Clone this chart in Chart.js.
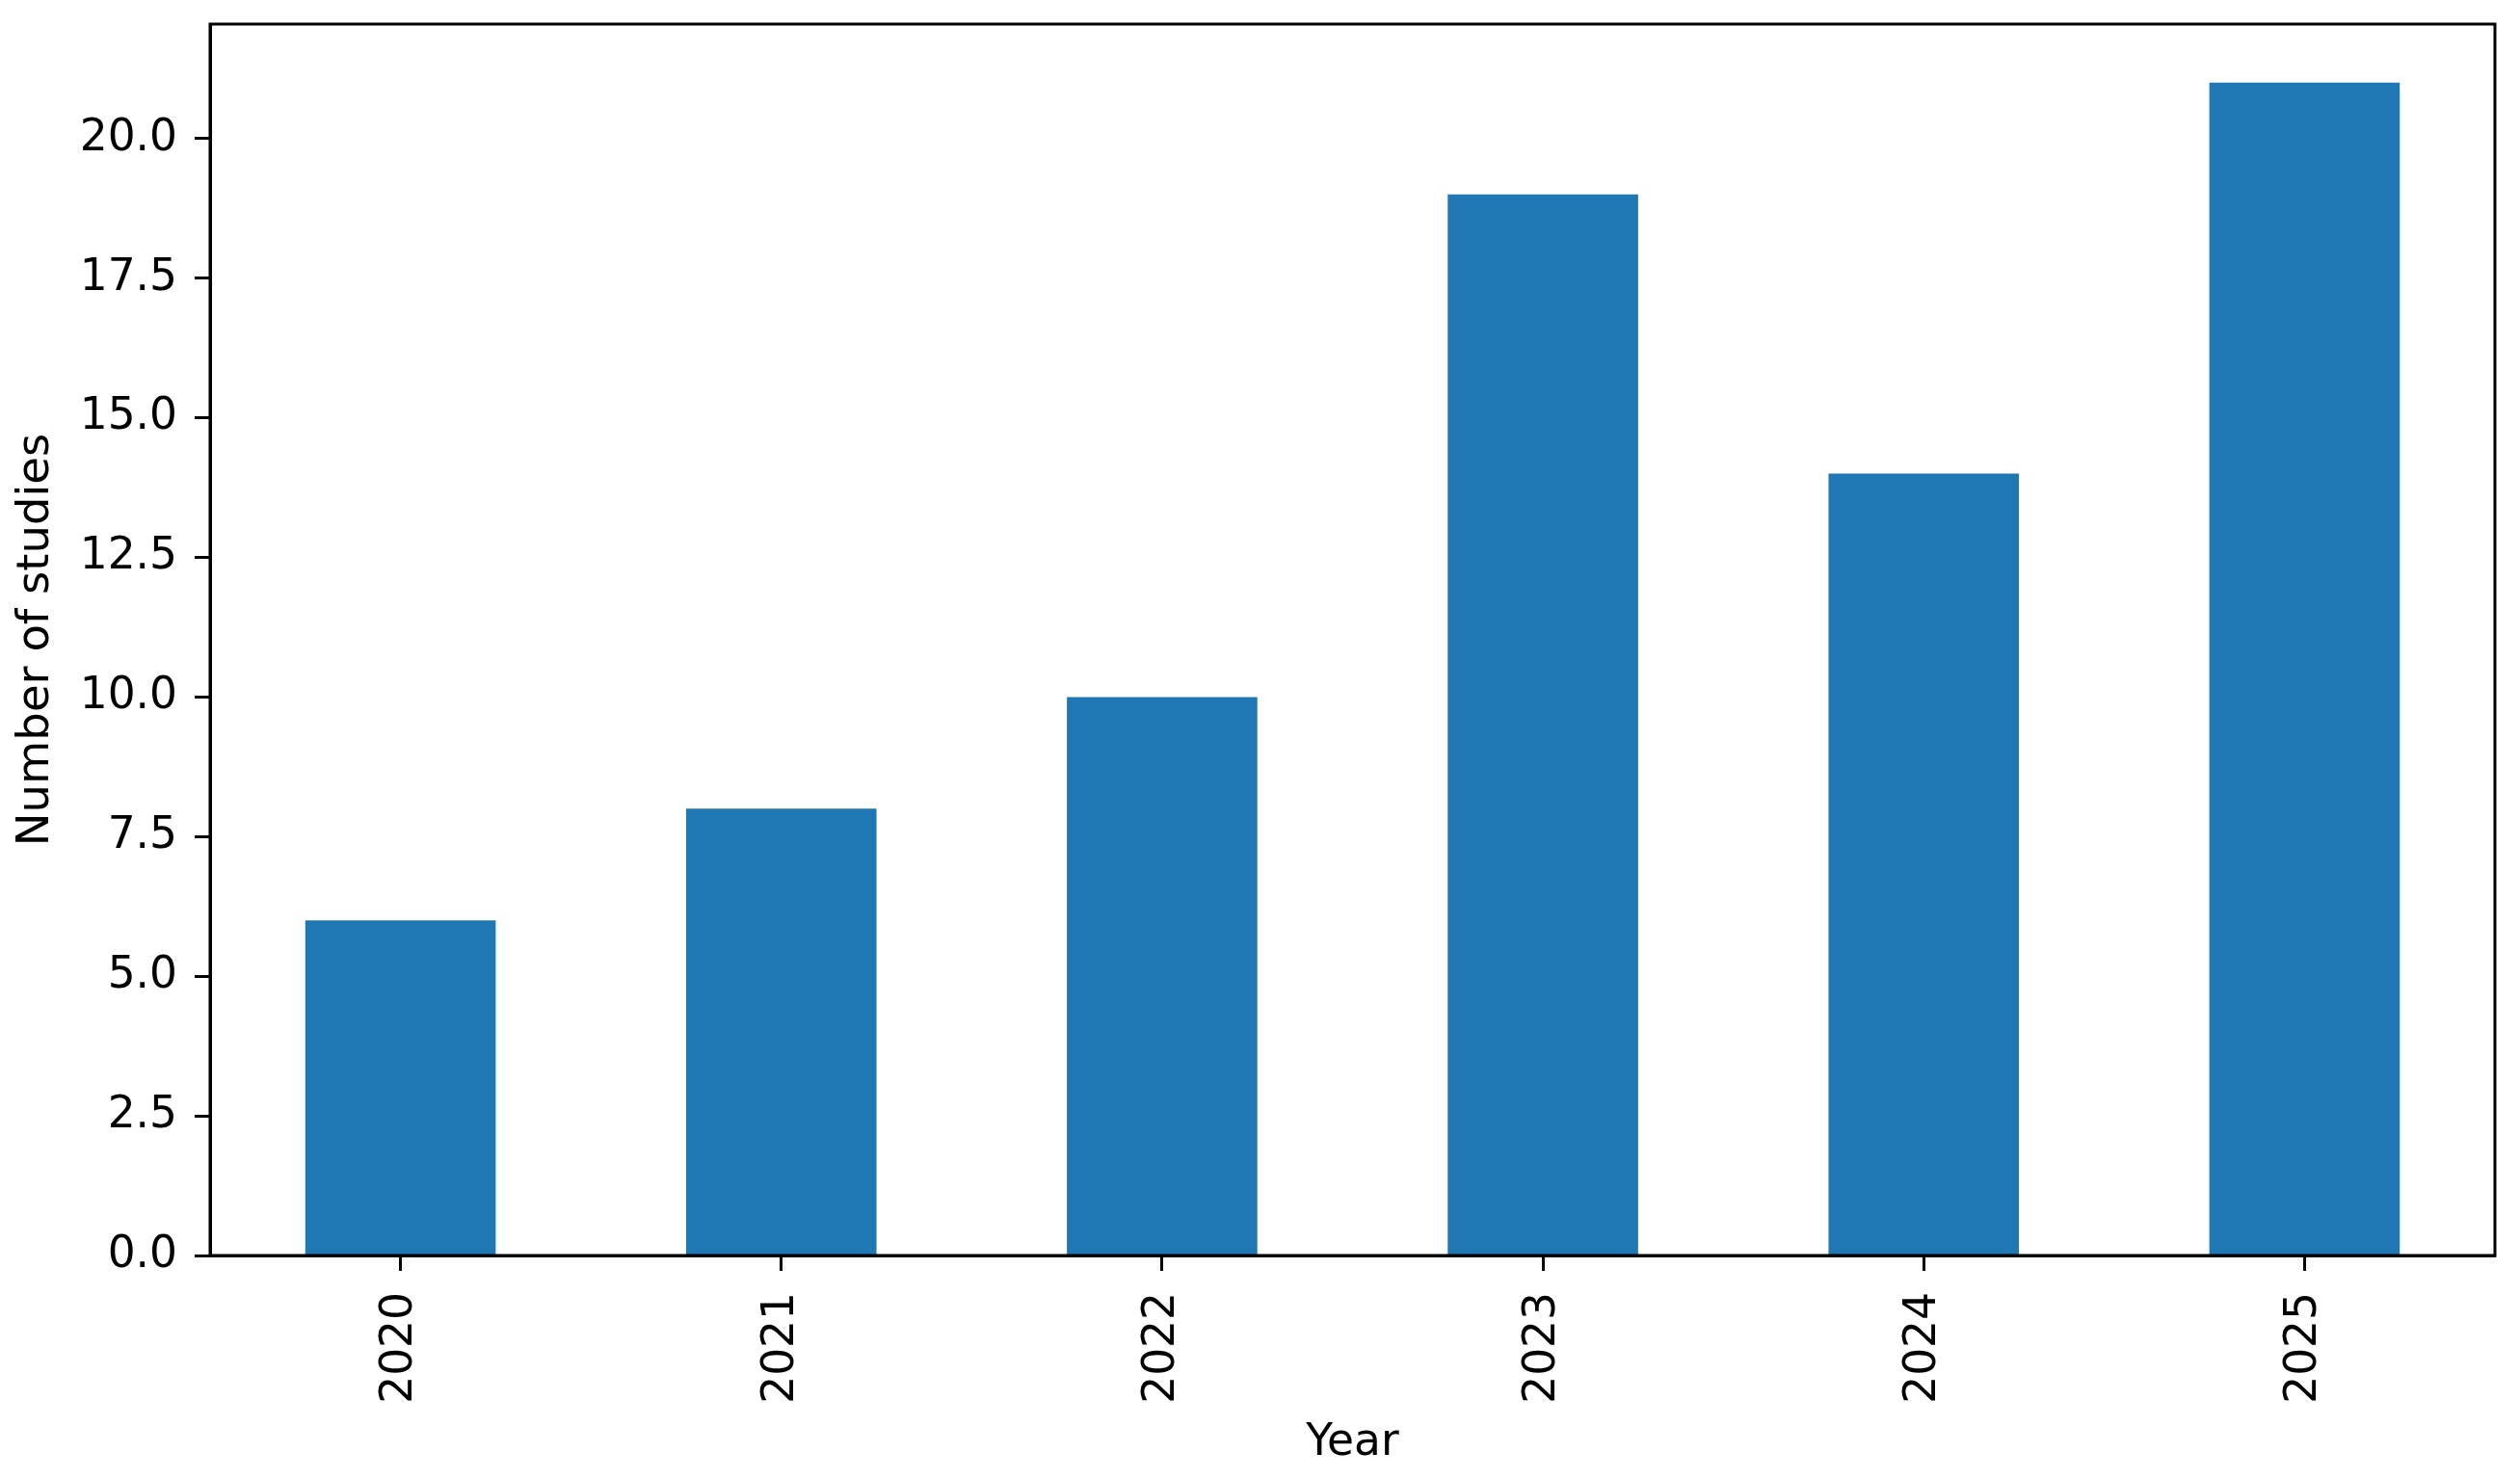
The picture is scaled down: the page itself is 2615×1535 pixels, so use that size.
<!DOCTYPE html>
<html>
<head>
<meta charset="utf-8">
<style>
  html, body { margin: 0; padding: 0; background: #fff; }
  #wrap { width: 2615px; height: 1535px; }
</style>
<script src="https://cdn.jsdelivr.net/npm/chart.js@4.4.1/dist/chart.umd.min.js"></script>
</head>
<body>
<div id="wrap"><canvas id="studiesChart" width="2615" height="1535"></canvas></div>
<script>
const years = ['2020', '2021', '2022', '2023', '2024', '2025'];
const studyCounts = [6, 8, 10, 19, 14, 21];
const yMax = 22.05;
const yStep = 2.5;

// frame round the plot area, like matplotlib spines
const framePlugin = {
  id: 'frame',
  afterDraw(chart) {
    const { ctx, chartArea } = chart;
    ctx.save();
    ctx.strokeStyle = '#000';
    ctx.lineWidth = 3;
    ctx.strokeRect(chartArea.left, chartArea.top, chartArea.right - chartArea.left, chartArea.bottom - chartArea.top);
    ctx.restore();
  }
};

const font = { family: 'DejaVu Sans', size: 45.5 };
const yTitleFont = { family: 'DejaVu Sans', size: 46.5 };

new Chart(document.getElementById('studiesChart'), {
  type: 'bar',
  data: {
    labels: years,
    datasets: [
      {
        data: studyCounts,
        backgroundColor: '#1f77b4',
        barPercentage: 0.5,
        categoryPercentage: 1.0
      }
    ]
  },
  options: {
    responsive: false,
    animation: false,
    devicePixelRatio: 1,
    layout: { padding: { top: 25, right: 26, left: 0, bottom: 0 } },
    plugins: {
      legend: { display: false },
      tooltip: { enabled: false }
    },
    scales: {
      x: {
        offset: true,
        afterFit: (scale) => {
          scale.height = 232;
          scale.paddingLeft = 0;
          scale.paddingRight = 0;
        },
        grid: {
          drawOnChartArea: false,
          drawTicks: true,
          tickLength: 16,
          tickWidth: 3,
          tickColor: '#000',
          offset: false
        },
        border: { display: true, color: '#000', width: 3 },
        ticks: {
          color: '#000',
          font,
          maxRotation: 90,
          minRotation: 90,
          padding: 22
        },
        title: {
          display: true,
          text: 'Year',
          color: '#000',
          font,
          padding: { top: 0, bottom: 10 }
        }
      },
      y: {
        min: 0,
        max: yMax,
        afterFit: (scale) => {
          scale.width = 218;
          scale.paddingTop = 0;
          scale.paddingBottom = 0;
        },
        grid: {
          drawOnChartArea: false,
          drawTicks: true,
          tickLength: 16,
          tickWidth: 3,
          tickColor: '#000'
        },
        border: { display: true, color: '#000', width: 3 },
        ticks: {
          stepSize: yStep,
          includeBounds: false,
          color: '#000',
          font,
          padding: 18,
          callback: (v) => Number(v).toFixed(1)
        },
        title: {
          display: true,
          text: 'Number of studies',
          color: '#000',
          font: yTitleFont,
          padding: { top: 10, bottom: 0 }
        }
      }
    }
  },
  plugins: [framePlugin]
});
</script>
</body>
</html>
